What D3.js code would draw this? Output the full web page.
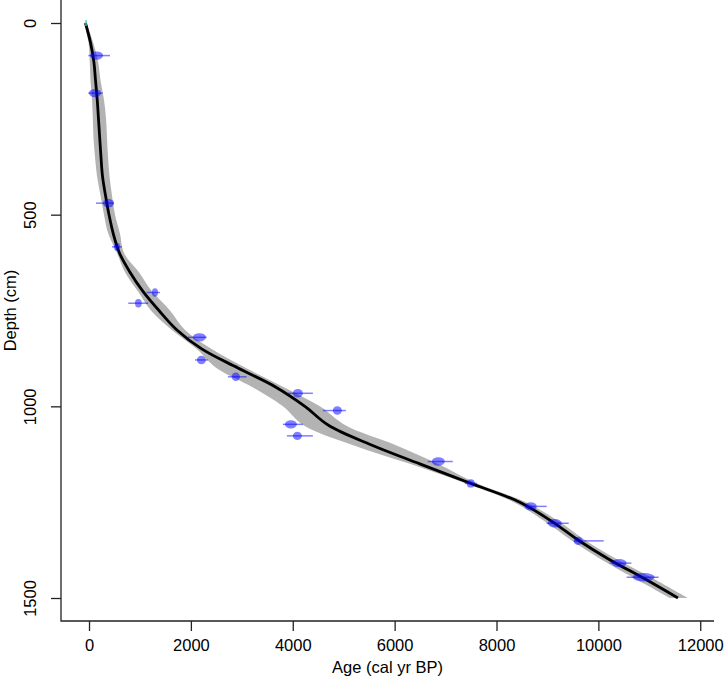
<!DOCTYPE html>
<html>
<head>
<meta charset="utf-8">
<script src="https://cdn.jsdelivr.net/npm/d3@7"></script>
<style>
  body { margin: 0; background: #fff; }
  text { font-family: "Liberation Sans", Arial, sans-serif; fill: #000; }
</style>
</head>
<body>
<svg id="chart" width="726" height="686"></svg>
<script>
var width = 726, height = 686

// age-depth model, sampled every 50 cm
var modelDepth = [0, 50, 100, 150, 200, 250, 300, 350, 400, 450, 500, 550, 600, 650, 700, 750,
  800, 850, 900, 950, 1000, 1050, 1100, 1150, 1200, 1250, 1300, 1350, 1400, 1450, 1500]
var modelAge = [-70, 27, 94, 128, 161, 186, 210, 235, 265, 324, 392, 477, 598, 804, 1059, 1373,
  1720, 2212, 2924, 3670, 4238, 4709, 5533, 6494, 7475, 8456, 9084, 9614, 10222, 10909, 11562]
var modelMin = [-90, -10, 14, 29, 59, 75, 88, 118, 157, 226, 294, 379, 549, 706, 961, 1216,
  1620, 2110, 2500, 3210, 3806, 4218, 5160, 6298, 7377, 8338, 8946, 9476, 10065, 10731, 11398]
var modelMax = [-50, 80, 177, 226, 294, 334, 353, 373, 402, 451, 510, 608, 687, 981, 1236, 1589,
  1880, 2400, 3080, 3826, 4532, 5042, 6004, 6847, 7593, 8574, 9221, 9751, 10379, 11085, 11754]

// calibrated dates: depth, full range and main probability mass (cal yr BP)
var dateDepth = [85, 183, 470, 584, 703, 731, 820, 879, 923, 966, 1011, 1047, 1077, 1144, 1201,
  1261, 1305, 1351, 1409, 1446]
var dateFrom = [-14, -14, 137, 451, 1132, 771, 1942, 2080, 2727, 3904, 4591, 3806, 3885, 6651, 7377,
  8554, 8980, 9516, 10222, 10556]
var dateTo = [412, 269, 491, 647, 1393, 1163, 2309, 2335, 3094, 4395, 5042, 4198, 4395, 7142, 7613,
  8986, 9418, 10104, 10648, 11183]
var massFrom = [20, 0, 275, 490, 1236, 903, 2040, 2119, 2800, 4002, 4787, 3846, 4002, 6730, 7416,
  8554, 9006, 9516, 10261, 10673]
var massTo = [275, 235, 491, 608, 1354, 1034, 2295, 2295, 2963, 4198, 4964, 4081, 4179, 6985, 7573,
  8790, 9281, 9692, 10556, 11104]

var surfaceAge = -60, surfaceDepth = 0

var xTicks = [0, 2000, 4000, 6000, 8000, 10000, 12000]
var yTicks = [0, 500, 1000, 1500]

var plotLeft = 61, plotRight = 714, plotTop = 0, plotBottom = 621

var x = d3.scaleLinear().domain([-550, 12270]).range([plotLeft, plotRight])
var y = d3.scaleLinear().domain([-60, 1560]).range([plotTop, plotBottom])

var svg = d3.select('#chart')

var model = modelDepth.map(function(d, i) {
  return {depth: d, age: modelAge[i], min: modelMin[i], max: modelMax[i]}
})
var dates = dateDepth.map(function(d, i) {
  return {depth: d, from: dateFrom[i], to: dateTo[i], m0: massFrom[i], m1: massTo[i]}
})

// grey uncertainty band
svg.append('path')
  .datum(model)
  .attr('fill', '#b3b3b3')
  .attr('d', d3.area()
    .curve(d3.curveCatmullRom)
    .y(function(d) { return y(d.depth) })
    .x0(function(d) { return x(d.min) })
    .x1(function(d) { return x(d.max) }))

// median curve
svg.append('path')
  .datum(model)
  .attr('fill', 'none')
  .attr('stroke', '#000')
  .attr('stroke-width', 2.8)
  .attr('d', d3.line()
    .curve(d3.curveCatmullRom)
    .x(function(d) { return x(d.age) })
    .y(function(d) { return y(d.depth) }))

// surface date
svg.append('rect')
  .attr('x', x(surfaceAge) - 1)
  .attr('y', y(surfaceDepth) - 3)
  .attr('width', 2).attr('height', 6)
  .attr('fill', '#40d0d0').attr('opacity', 0.7)

// dates
var g = svg.append('g').attr('class', 'dates')
g.selectAll('line')
  .data(dates)
  .enter().append('line')
  .attr('x1', function(d) { return x(d.from) })
  .attr('x2', function(d) { return x(d.to) })
  .attr('y1', function(d) { return y(d.depth) })
  .attr('y2', function(d) { return y(d.depth) })
  .attr('stroke', 'rgba(0,0,255,0.5)')
  .attr('stroke-width', 1.5)
g.selectAll('ellipse')
  .data(dates)
  .enter().append('ellipse')
  .attr('cx', function(d) { return (x(d.m0) + x(d.m1)) / 2 })
  .attr('cy', function(d) { return y(d.depth) })
  .attr('rx', function(d) { return Math.max(2.5, (x(d.m1) - x(d.m0)) / 2) })
  .attr('ry', 4.2)
  .attr('fill', 'rgba(0,0,255,0.5)')

// axes
var xAxis = svg.append('g')
  .attr('transform', 'translate(0,' + plotBottom + ')')
  .call(d3.axisBottom(x).tickValues(xTicks).tickSize(10).tickPadding(8).tickFormat(d3.format('d')))
xAxis.select('.domain').remove()

var yAxis = svg.append('g')
  .attr('transform', 'translate(' + plotLeft + ',0)')
  .call(d3.axisLeft(y).tickValues(yTicks).tickSize(10).tickFormat(d3.format('d')))
yAxis.select('.domain').remove()
yAxis.selectAll('.tick text')
  .attr('transform', 'rotate(-90)')
  .attr('x', 0).attr('y', -25)
  .attr('dy', 0)
  .attr('text-anchor', 'middle')

svg.selectAll('.tick line').attr('stroke', '#222').attr('stroke-width', 1.3)
svg.selectAll('.tick text').style('font-size', '16.5px')

// L-shaped box
svg.append('path')
  .attr('d', 'M' + plotLeft + ',' + plotTop + 'V' + plotBottom + 'H' + plotRight)
  .attr('fill', 'none')
  .attr('stroke', '#222')
  .attr('stroke-width', 1.3)

svg.append('text')
  .attr('x', (plotLeft + plotRight) / 2).attr('y', 673)
  .attr('text-anchor', 'middle')
  .style('font-size', '16.5px')
  .text('Age (cal yr BP)')

svg.append('text')
  .attr('transform', 'translate(16,' + (plotTop + plotBottom) / 2 + ') rotate(-90)')
  .attr('text-anchor', 'middle')
  .style('font-size', '16.5px')
  .text('Depth (cm)')
</script>
</body>
</html>
